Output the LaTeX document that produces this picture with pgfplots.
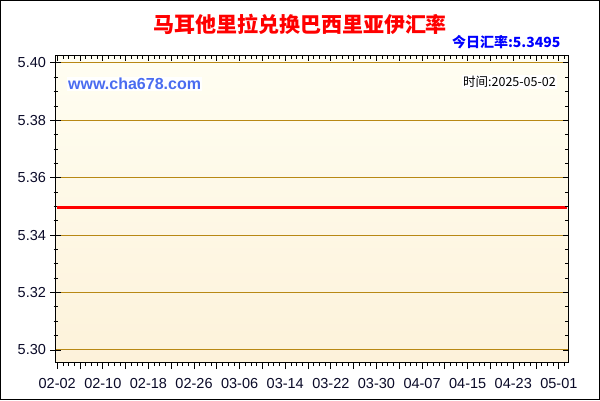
\documentclass[border=0pt]{standalone}
\usepackage{pgfplots}
\pgfplotsset{compat=1.18}
\usepackage{fontspec}
\setmainfont{Liberation Sans}
\newfontfamily\cjk{Noto Sans CJK SC}
\definecolor{gridgold}{RGB}{184,136,20}
\definecolor{bgtop}{RGB}{255,254,242}
\definecolor{bgbot}{RGB}{253,242,218}
\definecolor{urlblue}{RGB}{74,108,240}
\definecolor{ticklab}{RGB}{10,10,40}
\pgfplotsset{base/.style={
  at={(55.5pt,38pt)}, anchor=south west,
  width=512.5pt, height=306pt, scale only axis,
  xmin=-0.3, xmax=89.6, ymin=5.2958, ymax=5.4024,
  axis line style={black, line width=1pt},
  tick style={black, line width=0.8pt},
  ticklabel style={font=\fontsize{14.5}{16}\selectfont, text=ticklab},
}}
\begin{document}
\begin{tikzpicture}
\useasboundingbox (0,0) rectangle (600pt,400pt);
\fill[white] (0,0) rectangle (600pt,400pt);
% main axis: background, grid, data, y ticks
\begin{axis}[base,
  axis background/.style={shade, top color=bgtop, bottom color=bgbot},
  xtick=\empty,
  ytick={5.30,5.32,5.34,5.36,5.38,5.40},
  yticklabels={5.30,5.32,5.34,5.36,5.38,5.40},
  minor ytick={5.295,5.305,5.31,5.315,5.325,5.33,5.335,5.345,5.35,5.355,5.365,5.37,5.375,5.385,5.39,5.395},
  ytick pos=left, tick align=center,
  major tick length=10pt, minor tick length=4pt,
  ymajorgrids, major grid style={gridgold, line width=1pt},
  yticklabel style={xshift=-1pt},
]
\addplot[red, line width=3pt] coordinates {(0,5.3495) (89.5,5.3495)};
\end{axis}
% bottom x ticks
\begin{axis}[base,
  ytick=\empty,
  xtick={0,4,...,88},
  xticklabels={02-02,,02-10,,02-18,,02-26,,03-06,,03-14,,03-22,,03-30,,04-07,,04-15,,04-23,,05-01},
  minor xtick={0,1,...,89},
  xtick pos=bottom, tick align=outside,
  major tick length=7pt, minor tick length=4pt,
  xticklabel style={yshift=-6pt},
]
\end{axis}
% top and right inward ticks
\begin{axis}[base,
  xtick={0,4,...,88}, minor xtick={0,1,...,89},
  ytick={5.30,5.32,5.34,5.36,5.38,5.40},
  minor ytick={5.295,5.305,5.31,5.315,5.325,5.33,5.335,5.345,5.35,5.355,5.365,5.37,5.375,5.385,5.39,5.395},
  xticklabels={}, yticklabels={},
  xtick pos=top, ytick pos=right, tick align=inside,
  major tick length=5pt, minor tick length=3pt,
]
\end{axis}
\node[text=red, font=\cjk\bfseries\fontsize{21}{23}\selectfont] at (300pt,376pt) {马耳他里拉兑换巴西里亚伊汇率};
\node[anchor=east, text=blue, font=\cjk\bfseries\fontsize{14}{16}\selectfont] at (564pt,358pt) {今日汇率:5.3495};
\node[anchor=west, fill=white, inner sep=1pt, text=urlblue, font=\bfseries\fontsize{16}{18}\selectfont] at (67pt,316pt) {www.cha678.com};
\node[anchor=east, fill=white, inner sep=1pt, text=black, font=\cjk\fontsize{12.5}{14}\selectfont] at (557pt,318pt) {时间:2025-05-02};
\draw[black, line width=1pt] (0.5pt,0.5pt) rectangle (599.5pt,399.5pt);
\end{tikzpicture}
\end{document}
